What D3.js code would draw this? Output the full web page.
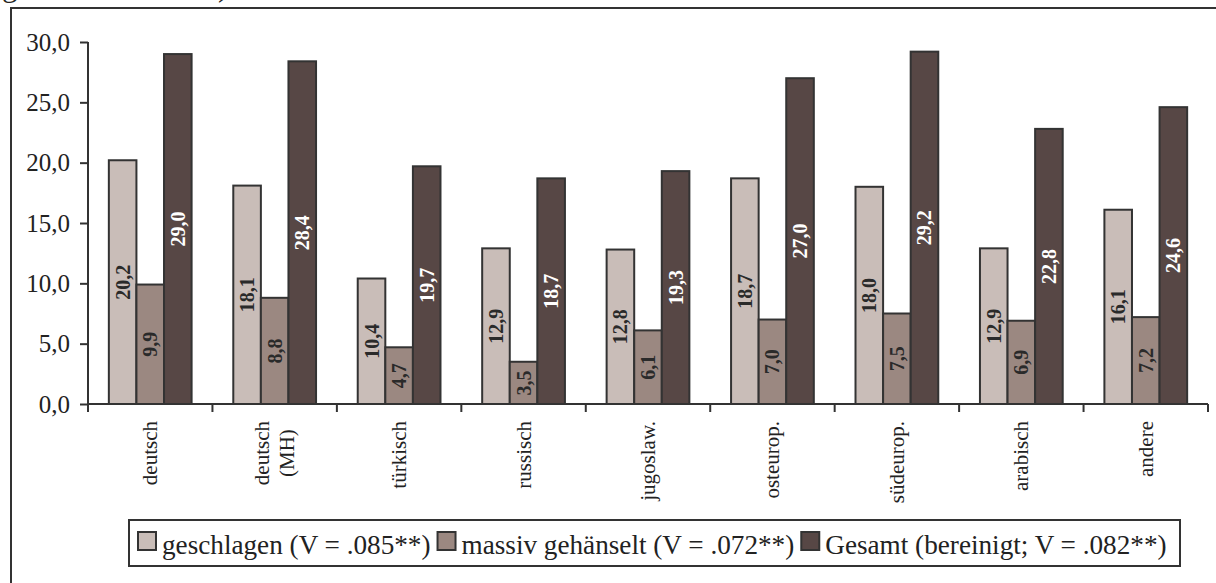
<!DOCTYPE html>
<html><head><meta charset="utf-8">
<script src="https://cdn.jsdelivr.net/npm/d3@7"></script>
<style>
html,body{margin:0;padding:0;background:#fff;}
svg{display:block;font-family:"Liberation Serif","Times New Roman",serif;}
</style></head>
<body>
<svg id="chart" width="1216" height="583"></svg>
<script>
const categories = [["deutsch"], ["deutsch", "(MH)"], ["türkisch"], ["russisch"], ["jugoslaw."], ["osteurop."], ["südeurop."], ["arabisch"], ["andere"]];
const geschlagen = [20.2, 18.1, 10.4, 12.9, 12.8, 18.7, 18.0, 12.9, 16.1];
const gehaenselt = [9.9, 8.8, 4.7, 3.5, 6.1, 7.0, 7.5, 6.9, 7.2];
const gesamt = [29.0, 28.4, 19.7, 18.7, 19.3, 27.0, 29.2, 22.8, 24.6];
const seriesNames = ["geschlagen (V = .085**)", "massiv gehänselt (V = .072**)", "Gesamt (bereinigt; V = .082**)"];
const seriesColors = ["#c9bdb8", "#9b8881", "#574745"];
const labelColors = ["#2a2a2a", "#2a2a2a", "#ffffff"];
const yTicks = [0, 5, 10, 15, 20, 25, 30];

const svg = d3.select("#chart");
const ink = "#333333";

// frame (extends past the picture on right/bottom)
svg.append("rect").attr("x", 11).attr("y", 8).attr("width", 1260).attr("height", 640)
  .attr("fill", "none").attr("stroke", ink).attr("stroke-width", 2);

// cut-off title line at the top
svg.append("text").attr("x", 2).attr("y", -4).attr("font-size", 31).attr("fill", "#222")
  .text("gewichtete Daten)");

const mLeft = 88, mRight = 1208, mTop = 42, mBottom = 404;
const x = d3.scaleBand().domain(d3.range(categories.length)).range([mLeft, mRight]).paddingInner(0).paddingOuter(0);
const groupFrac = 0.665;
const xs = d3.scaleBand().domain([0, 1, 2]).range([0, x.bandwidth() * groupFrac]);
const y = d3.scaleLinear().domain([0, 30]).range([mBottom, mTop]);

const loc = d3.formatLocale({decimal: ",", thousands: ".", grouping: [3], currency: ["", "€"]});
const fmt = loc.format(".1f");

// y axis
const yAxis = svg.append("g").attr("transform", `translate(${mLeft},0)`)
  .call(d3.axisLeft(y).tickValues(yTicks).tickSize(8).tickPadding(10).tickFormat(fmt));
yAxis.select(".domain").attr("stroke", ink).attr("stroke-width", 2).attr("d", `M0,${mTop}H0V${mBottom}`);
yAxis.selectAll(".tick line").attr("stroke", ink).attr("stroke-width", 2);
yAxis.selectAll(".tick text").attr("font-size", 25).attr("fill", "#222").attr("font-family", "Liberation Serif");

const series = [geschlagen, gehaenselt, gesamt];
const groups = svg.append("g");
series.forEach((vals, si) => {
  groups.selectAll(null).data(vals).enter().append("rect")
    .attr("x", (d, i) => x(i) + (x.bandwidth() * (1 - groupFrac)) / 2 + xs(si))
    .attr("y", d => y(d))
    .attr("width", xs.bandwidth())
    .attr("height", d => y(0) - y(d))
    .attr("fill", seriesColors[si])
    .attr("stroke", ink).attr("stroke-width", 2);
});
series.forEach((vals, si) => {
  groups.selectAll(null).data(vals).enter().append("text")
    .attr("transform", (d, i) => {
      const cx = x(i) + (x.bandwidth() * (1 - groupFrac)) / 2 + xs(si) + xs.bandwidth() / 2;
      const cy = (y(d) + y(0)) / 2;
      return `translate(${cx},${cy}) rotate(-90)`;
    })
    .attr("text-anchor", "middle").attr("dominant-baseline", "central")
    .attr("font-size", 20).attr("font-weight", "bold").attr("fill", labelColors[si])
    .text(d => fmt(d));
});

// x axis
const xAxisG = svg.append("g");
xAxisG.append("line").attr("x1", mLeft).attr("x2", mRight).attr("y1", mBottom).attr("y2", mBottom)
  .attr("stroke", ink).attr("stroke-width", 2);
const bounds = d3.range(categories.length + 1).map(i => i < categories.length ? x(i) : mRight);
xAxisG.selectAll(null).data(bounds).enter().append("line")
  .attr("x1", d => d).attr("x2", d => d).attr("y1", mBottom).attr("y2", mBottom + 8)
  .attr("stroke", ink).attr("stroke-width", 2);

// category labels (rotated, top-aligned block, lines centred on each other)
categories.forEach((lines, i) => {
  const cx = x(i) + x.bandwidth() / 2;
  const lh = 25;
  const g = xAxisG.append("g");
  const texts = lines.map((ln, k) => g.append("text")
    .attr("font-size", 21).attr("fill", "#222").attr("text-anchor", "middle")
    .attr("dominant-baseline", "central").text(ln));
  const maxLen = d3.max(texts, t => t.node().getComputedTextLength());
  const cy = mBottom + 17 + maxLen / 2;
  texts.forEach((t, k) => {
    const off = (k - (lines.length - 1) / 2) * lh;
    t.attr("transform", `translate(${cx + off},${cy}) rotate(-90)`);
  });
});

// legend
const lg = svg.append("g");
lg.append("rect").attr("x", 129).attr("y", 520).attr("width", 1051).attr("height", 46)
  .attr("fill", "#fff").attr("stroke", ink).attr("stroke-width", 2);
let lx = 138;
seriesNames.forEach((name, si) => {
  lg.append("rect").attr("x", lx).attr("y", 532).attr("width", 18).attr("height", 18)
    .attr("fill", seriesColors[si]).attr("stroke", ink).attr("stroke-width", 2);
  const t = lg.append("text").attr("x", lx + 24).attr("y", 554).attr("font-size", 27.2)
    .attr("fill", "#222").text(name);
  lx = lx + 24 + t.node().getComputedTextLength() + 7;
});
</script>
</body></html>
